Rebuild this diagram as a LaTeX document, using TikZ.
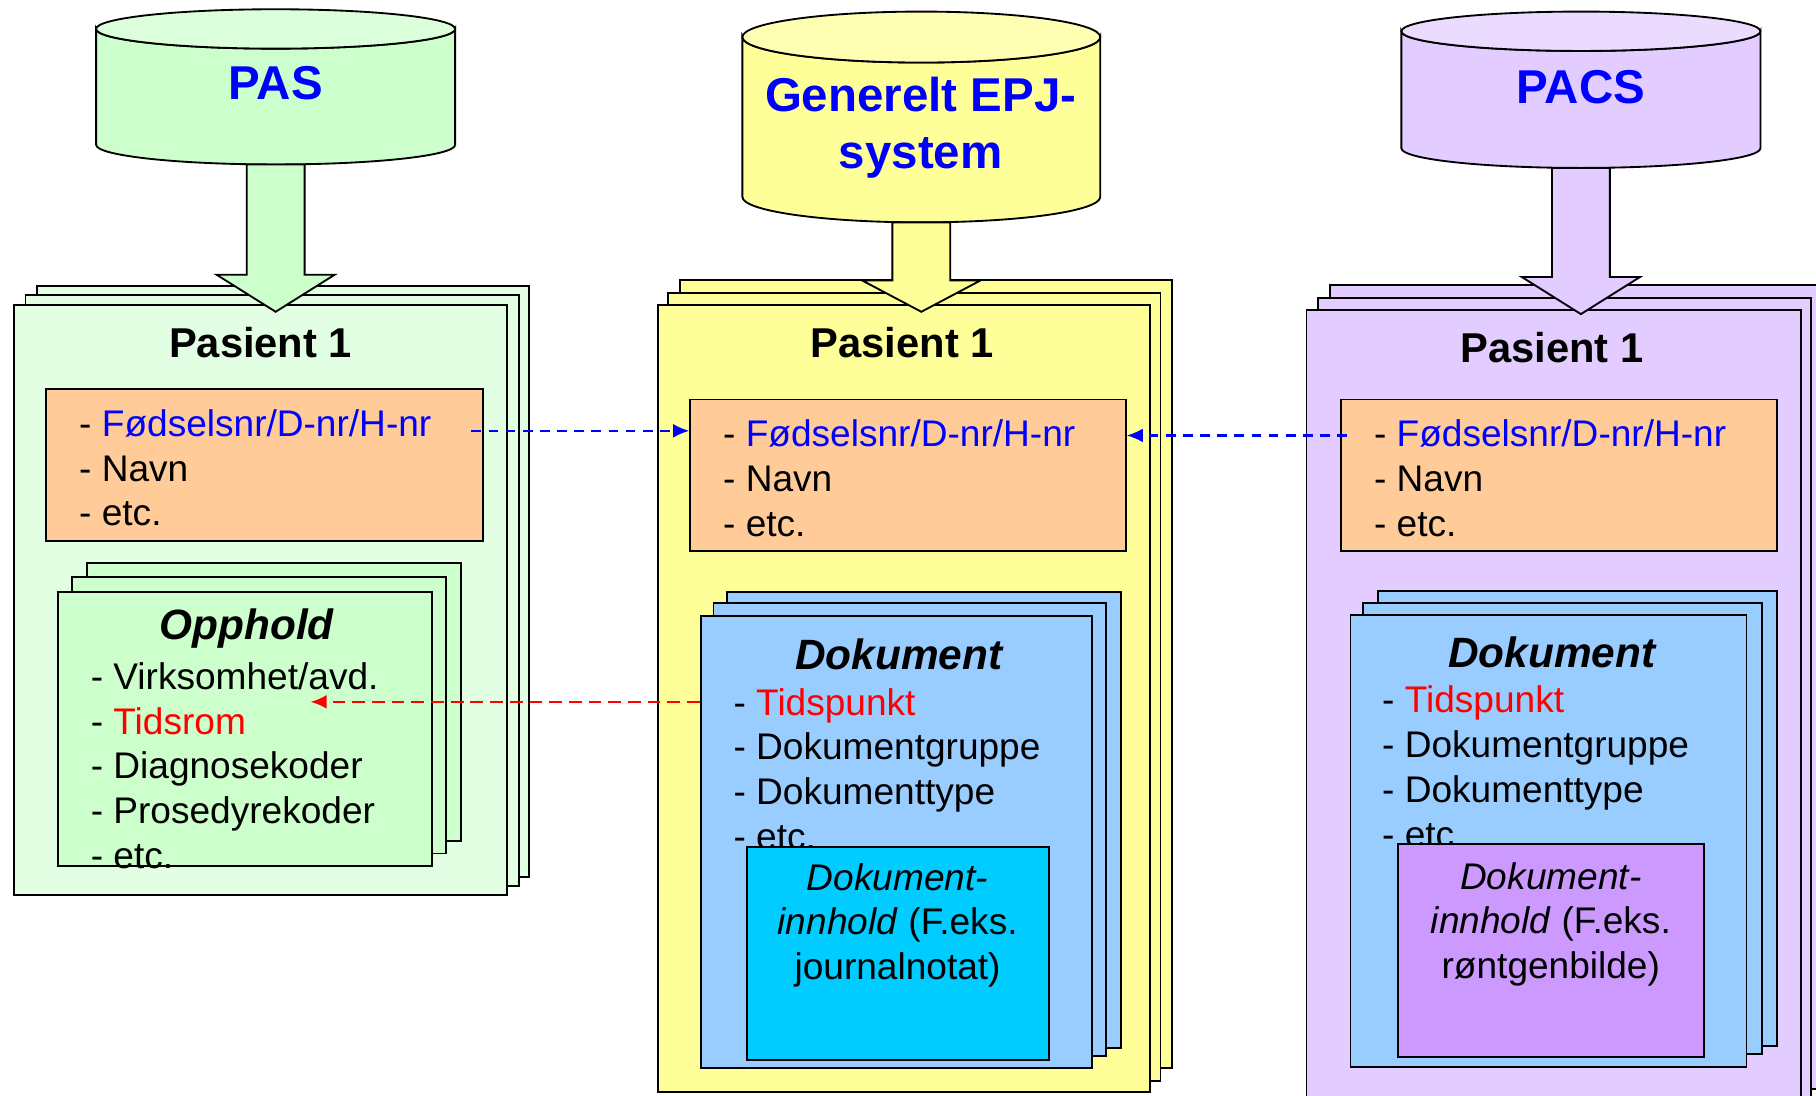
\documentclass[tikz,border=0pt]{standalone}
\usepackage{fontspec}
\setmainfont{Liberation Sans}
\usetikzlibrary{
    calc,
    fit,
    arrows.meta
}
\definecolor{pasGreen}{HTML}{CCFFCC}
\definecolor{pasGreenTop}{HTML}{DBFFDB}
\definecolor{pasPaper}{HTML}{E3FFE3}
\definecolor{epjYellow}{HTML}{FFFF99}
\definecolor{epjYellowTop}{HTML}{FFFFB3}
\definecolor{pacsLilac}{HTML}{E3CCFF}
\definecolor{pacsLilacTop}{HTML}{EBDBFF}
\definecolor{idOrange}{HTML}{FFCC99}
\definecolor{docBlue}{HTML}{99CCFF}
\definecolor{contentCyan}{HTML}{00CCFF}
\definecolor{contentPurple}{HTML}{CC99FF}
\definecolor{idBlue}{HTML}{0000FF}
\definecolor{timeRed}{HTML}{FF0000}
\tikzset{
    >={Latex[length=7pt,width=6pt]},
    % Databases on top
    dbShape/.style={
        draw=black,
        thick
    },
    dbName/.style={
        font=\fontsize{20.5}{24.5}\selectfont\bfseries,
        text=idBlue,
        align=center
    },
    bigArrow/.style={
        draw=black,
        thick,
        line join=miter
    },
    % Stacked sheets
    sheet/.style={
        rectangle,
        draw=black,
        thick,
        inner sep=0pt
    },
    idBox/.style={
        sheet,
        fill=idOrange
    },
    pageName/.style={
        font=\fontsize{18}{21}\selectfont\bfseries
    },
    boxTitle/.style={
        font=\fontsize{18.3}{22}\selectfont\bfseries\itshape
    },
    itemList/.style={
        font=\fontsize{16}{19.3}\selectfont,
        align=left,
        inner sep=0pt,
        anchor=west
    },
    contentText/.style={
        font=\fontsize{16}{19.3}\selectfont,
        align=center,
        inner sep=0pt
    },
    % Links between the systems
    idLink/.style={
        ->,
        idBlue,
        line width=0.9pt,
        dash pattern=on 4.2pt off 3.2pt
    },
    timeLink/.style={
        ->,
        timeRed,
        line width=1.1pt,
        dash pattern=on 5.5pt off 3pt
    }
}

\begin{document}
\begin{tikzpicture}[x=0.5pt, y=-0.5pt]

    \useasboundingbox (0,0) rectangle (1568,946);
    \clip (0,0) rectangle (1568,946);

    % PAS
    \draw[dbShape, fill=pasGreen] (83,25) -- (83,125)
        arc[start angle=180, end angle=0, x radius=155, y radius=17]
        -- (393,25) arc[start angle=0, end angle=180, x radius=155, y radius=17] -- cycle;
    \draw[dbShape, fill=pasGreenTop] (238,25) ellipse[x radius=155, y radius=17];
    \node[dbName] (pasDB) at (238,72) {PAS};
    \coordinate (pasBottom) at (238,142);

    \node[sheet, fill=pasPaper, fit={(32,247) (457,757)}] (pasPage3) {};
    \node[sheet, fill=pasPaper, fit={(22,255) (448,765)}] (pasPage2) {};
    \node[sheet, fill=pasPaper, fit={(12,263) (438,773)}] (pasPage1) {};
    \node[pageName] (pasName) at (225,296) {Pasient 1};
    \node[idBox, fit={(40,336) (417,467)}] (pasId) {};
    \node[itemList] (pasIdText) at (68,404) {- \textcolor{idBlue}{Fødselsnr/D-nr/H-nr}\\- Navn\\- etc.};

    \node[sheet, fill=pasGreen, fit={(75,486) (398,726)}] (oppPage3) {};
    \node[sheet, fill=pasGreen, fit={(62,498) (385,737)}] (oppPage2) {};
    \node[sheet, fill=pasGreen, fit={(50,511) (373,748)}] (oppPage1) {};
    \node[boxTitle] (oppTitle) at (213,543) {Opphold};
    \node[itemList] (oppText) at (78,661) {- Virksomhet/avd.\\- \textcolor{timeRed}{Tidsrom}\\- Diagnosekoder\\- Prosedyrekoder\\- etc.};

    \coordinate (pasTip) at ($(pasBottom |- pasPage1.north)+(0,7)$);
    \draw[bigArrow, fill=pasGreen] ($(pasBottom)+(-25,0)$) -- ($(pasTip)+(-25,-32)$)
        -- ($(pasTip)+(-51,-32)$) -- (pasTip) -- ($(pasTip)+(51,-32)$)
        -- ($(pasTip)+(25,-32)$) -- ($(pasBottom)+(25,0)$) -- cycle;

    % Generelt EPJ-system
    \draw[dbShape, fill=epjYellow] (641,32) -- (641,170)
        arc[start angle=180, end angle=0, x radius=154.5, y radius=22]
        -- (950,32) arc[start angle=0, end angle=180, x radius=154.5, y radius=22] -- cycle;
    \draw[dbShape, fill=epjYellowTop] (795.5,32) ellipse[x radius=154.5, y radius=22];
    \node[dbName] (epjDB) at (795,110) {Generelt EPJ-\\system};
    \coordinate (epjBottom) at (795.5,192);

    \node[sheet, fill=epjYellow, fit={(587,242) (1012,922)}] (epjPage3) {};
    \node[sheet, fill=epjYellow, fit={(577,253) (1002,933)}] (epjPage2) {};
    \node[sheet, fill=epjYellow, fit={(568,263) (993,943)}] (epjPage1) {};
    \node[pageName] (epjName) at (779,296) {Pasient 1};
    \node[idBox, fit={(596,345) (972,476)}] (epjId) {};
    \node[itemList] (epjIdText) at (624,413) {- \textcolor{idBlue}{Fødselsnr/D-nr/H-nr}\\- Navn\\- etc.};

    \node[sheet, fill=docBlue, fit={(628,511) (968,905)}] (epjDoc3) {};
    \node[sheet, fill=docBlue, fit={(616,521) (955,912)}] (epjDoc2) {};
    \node[sheet, fill=docBlue, fit={(605,532) (943,922)}] (epjDoc1) {};
    \node[boxTitle] (epjDocTitle) at (776,565) {Dokument};
    \node[itemList] (epjDocText) at (633,664) {- \textcolor{timeRed}{Tidspunkt}\\- Dokumentgruppe\\- Dokumenttype\\- etc.};
    \node[sheet, fill=contentCyan, fit={(645,731) (906,915)}] (epjContent) {};
    \node[contentText] (epjContentText) at (775,799) {\textit{Dokument-}\\\textit{innhold} (F.eks.\\journalnotat)};

    \coordinate (epjTip) at ($(epjBottom |- epjPage1.north)+(0,7)$);
    \draw[bigArrow, fill=epjYellow] ($(epjBottom)+(-25,0)$) -- ($(epjTip)+(-25,-27)$)
        -- ($(epjTip)+(-51,-27)$) -- (epjTip) -- ($(epjTip)+(51,-27)$)
        -- ($(epjTip)+(25,-27)$) -- ($(epjBottom)+(25,0)$) -- cycle;

    % PACS
    \draw[dbShape, fill=pacsLilac] (1210,27) -- (1210,128)
        arc[start angle=180, end angle=0, x radius=155, y radius=17]
        -- (1520,27) arc[start angle=0, end angle=180, x radius=155, y radius=17] -- cycle;
    \draw[dbShape, fill=pacsLilacTop] (1365,27) ellipse[x radius=155, y radius=17];
    \node[dbName] (pacsDB) at (1365,75) {PACS};
    \coordinate (pacsBottom) at (1365,145);

    \node[sheet, fill=pacsLilac, fit={(1148,246) (1574,940)}] (pacsPage3) {};
    \node[sheet, fill=pacsLilac, fit={(1138,257) (1564,950)}] (pacsPage2) {};
    \node[sheet, fill=pacsLilac, fit={(1128,268) (1555,960)}] (pacsPage1) {};
    \node[pageName] (pacsName) at (1340,300) {Pasient 1};
    \node[idBox, fit={(1158,345) (1534,476)}] (pacsId) {};
    \node[itemList] (pacsIdText) at (1186,413) {- \textcolor{idBlue}{Fødselsnr/D-nr/H-nr}\\- Navn\\- etc.};

    \node[sheet, fill=docBlue, fit={(1190,510) (1534,903)}] (pacsDoc3) {};
    \node[sheet, fill=docBlue, fit={(1177,521) (1521,910)}] (pacsDoc2) {};
    \node[sheet, fill=docBlue, fit={(1166,531) (1508,921)}] (pacsDoc1) {};
    \node[boxTitle] (pacsDocTitle) at (1340,563) {Dokument};
    \node[itemList] (pacsDocText) at (1193,662) {- \textcolor{timeRed}{Tidspunkt}\\- Dokumentgruppe\\- Dokumenttype\\- etc.};
    \node[sheet, fill=contentPurple, fit={(1207,729) (1471,913)}] (pacsContent) {};
    \node[contentText] (pacsContentText) at (1339,798) {\textit{Dokument-}\\\textit{innhold} (F.eks.\\røntgenbilde)};

    \coordinate (pacsTip) at ($(pacsBottom |- pacsPage1.north)+(0,4)$);
    \draw[bigArrow, fill=pacsLilac] ($(pacsBottom)+(-25,0)$) -- ($(pacsTip)+(-25,-32)$)
        -- ($(pacsTip)+(-51,-32)$) -- (pacsTip) -- ($(pacsTip)+(51,-32)$)
        -- ($(pacsTip)+(25,-32)$) -- ($(pacsBottom)+(25,0)$) -- cycle;

    % Links
    \coordinate (pasIdOut) at (407,372);
    \coordinate (pacsIdOut) at (1163,376);
    \coordinate (oppTimeIn) at (268,606);
    \draw[idLink] (pasIdOut) -- (pasIdOut -| epjId.west);
    \draw[idLink] (pacsIdOut) -- (pacsIdOut -| epjId.east);
    \draw[timeLink] (oppTimeIn -| epjDoc1.west) -- (oppTimeIn);

\end{tikzpicture}
\end{document}
